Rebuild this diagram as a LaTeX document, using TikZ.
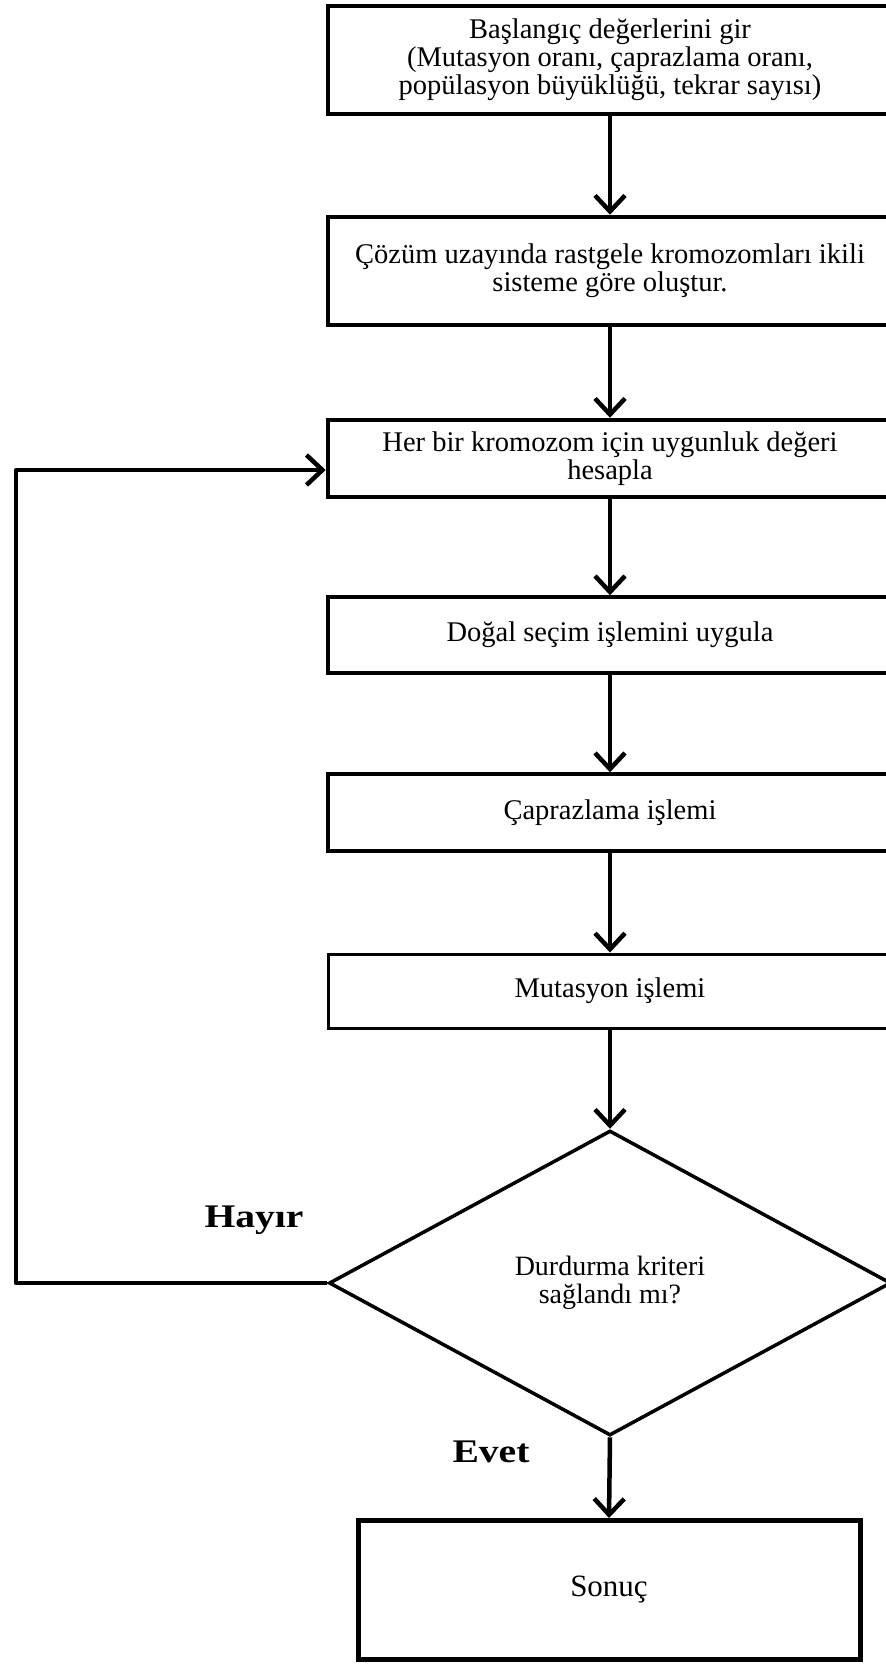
\documentclass[tikz,border=0pt]{standalone}
\usepackage{fontspec}
\usepackage{graphicx}
\setmainfont{Liberation Serif}
\usetikzlibrary{shapes.geometric,arrows.meta}
\begin{document}
\begin{tikzpicture}[x=1pt,y=-1pt,
  box/.style={draw, rectangle, minimum width=564pt, inner sep=0pt, align=center,
    font=\fontsize{28.5}{28}\selectfont, line width=4.5pt},
  thinbox/.style={box, line width=3.5pt},
  arr/.style={line width=4.5pt, line join=round, -{Straight Barb[length=16pt,width=30pt]}},
  lbl/.style={font=\bfseries\fontsize{33}{36}\selectfont, inner sep=0pt}]
\useasboundingbox (0,0) rectangle (886,1666);
\clip (0,0) rectangle (886,1666);
\node[box, minimum height=108pt] (b1) at (610,60)
  {Başlangıç değerlerini gir\\(Mutasyon oranı, çaprazlama oranı,\\popülasyon büyüklüğü, tekrar sayısı)};
\node[box, minimum height=108pt] (b2) at (610,271)
  {Çözüm uzayında rastgele kromozomları ikili\\sisteme göre oluştur.};
\node[box, minimum height=77pt] (b3) at (610,458.5)
  {Her bir kromozom için uygunluk değeri\\hesapla};
\node[thinbox, minimum height=76pt] (b4) at (610,635) {Doğal seçim işlemini uygula};
\node[thinbox, minimum height=77pt] (b5) at (610,812.5) {Çaprazlama işlemi};
\node[thinbox, minimum height=74pt, line width=3pt] (b6) at (610,991) {Mutasyon işlemi};
\node[draw, diamond, line width=3.5pt, minimum width=562pt, minimum height=305pt, inner sep=0pt,
  align=center, font=\fontsize{28}{28}\selectfont] (d) at (610,1283)
  {Durdurma kriteri\\sağlandı mı?};
\node[box, minimum width=502pt, minimum height=139pt, line width=5pt,
  font=\fontsize{31}{32}\selectfont] (b7) at (609,1590) {Sonuç};
\node[lbl] (hayir) at (254,1220) {\scalebox{1.2}[1]{Hayır}};
\node[lbl] (evet) at (491,1452) {\scalebox{1.2}[1]{Evet}};
\coordinate (lc) at (16,470);
\draw[arr] (b1.south) -- (b2.north);
\draw[arr] (b2.south) -- (b3.north);
\draw[arr] (b3.south) -- (b4.north);
\draw[arr] (b4.south) -- (b5.north);
\draw[arr] (b5.south) -- (b6.north);
\draw[arr] (b6.south) -- (d.north);
\draw[arr] (d.south) -- (b7.north);
\draw[arr] (d.west) -| (lc) -- ([yshift=-11.5pt]b3.west);
\end{tikzpicture}
\end{document}
